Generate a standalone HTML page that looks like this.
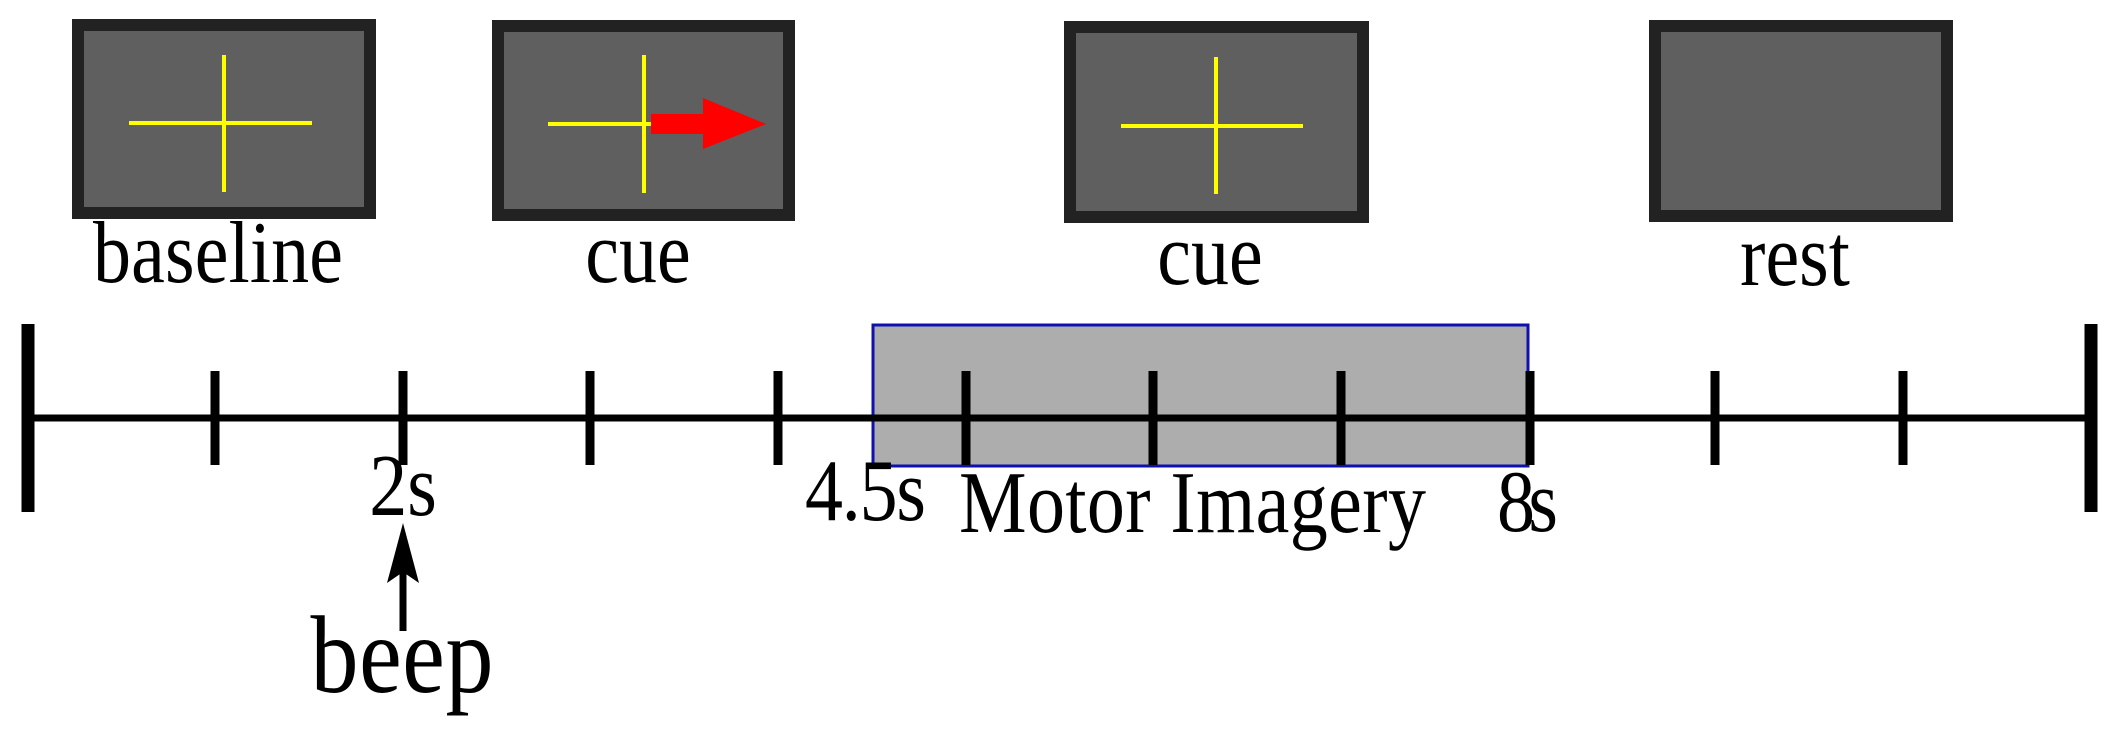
<!DOCTYPE html>
<html><head><meta charset="utf-8"><style>html,body{margin:0;padding:0;background:#fff}svg{display:block}</style></head>
<body>
<svg width="2118" height="738" viewBox="0 0 2118 738" xmlns="http://www.w3.org/2000/svg" font-family="Liberation Serif, serif" font-size="76" fill="#000">
<g fill="#5f5f5f" stroke="#222" stroke-width="12">
<rect x="78" y="25" width="292" height="188"/>
<rect x="498" y="26" width="291" height="189"/>
<rect x="1070" y="27" width="293" height="190"/>
<rect x="1655" y="26" width="292" height="190"/>
</g>
<g stroke="#ffff00" stroke-width="4">
<line x1="224" y1="55" x2="224" y2="192"/><line x1="129" y1="123" x2="312" y2="123"/>
<line x1="644" y1="55" x2="644" y2="193"/><line x1="548" y1="124" x2="651" y2="124"/>
<line x1="1216" y1="57" x2="1216" y2="194"/><line x1="1121" y1="126" x2="1303" y2="126"/>
</g>
<polygon points="651,114 703,114 703,98 766,124 703,149 703,134 651,134" fill="#f00"/>
<g transform="translate(218,282) scale(1,1.15)"><text text-anchor="middle" textLength="250">baseline</text></g>
<g transform="translate(638,282) scale(1,1.15)"><text text-anchor="middle">cue</text></g>
<g transform="translate(1210,284) scale(1,1.15)"><text text-anchor="middle">cue</text></g>
<g transform="translate(1795,285) scale(1,1.15)"><text text-anchor="middle">rest</text></g>
<rect x="873" y="325" width="655" height="141" fill="#adadad" stroke="#1010b0" stroke-width="3"/>
<line x1="28" y1="418" x2="2091" y2="418" stroke="#000" stroke-width="7"/>
<line x1="28" y1="324" x2="28" y2="512" stroke="#000" stroke-width="13"/>
<line x1="2091" y1="324" x2="2091" y2="512" stroke="#000" stroke-width="13"/>
<g stroke="#000" stroke-width="9">
<line x1="215" y1="371" x2="215" y2="465"/>
<line x1="403" y1="371" x2="403" y2="465"/>
<line x1="590" y1="371" x2="590" y2="465"/>
<line x1="778" y1="371" x2="778" y2="465"/>
<line x1="966" y1="371" x2="966" y2="465"/>
<line x1="1153" y1="371" x2="1153" y2="465"/>
<line x1="1341" y1="371" x2="1341" y2="465"/>
<line x1="1530" y1="371" x2="1530" y2="465"/>
<line x1="1715" y1="371" x2="1715" y2="465"/>
<line x1="1903" y1="371" x2="1903" y2="465"/>
</g>
<g transform="translate(403,515) scale(1,1.15)"><text text-anchor="middle">2s</text></g>
<g transform="translate(805,520) scale(1,1.15)"><text textLength="121">4.5s</text></g>
<g transform="translate(959,532) scale(1,1.15)"><text textLength="467">Motor Imagery</text></g>
<g transform="translate(1497,531) scale(1,1.15)"><text textLength="61">8s</text></g>
<line x1="403" y1="631" x2="403" y2="570" stroke="#000" stroke-width="7"/>
<polygon points="403,523 419,583 403,572 387,583" fill="#000"/>
<g transform="translate(402,692) scale(1,1.15)"><text text-anchor="middle" font-size="96" textLength="183">beep</text></g>
</svg>
</body></html>
